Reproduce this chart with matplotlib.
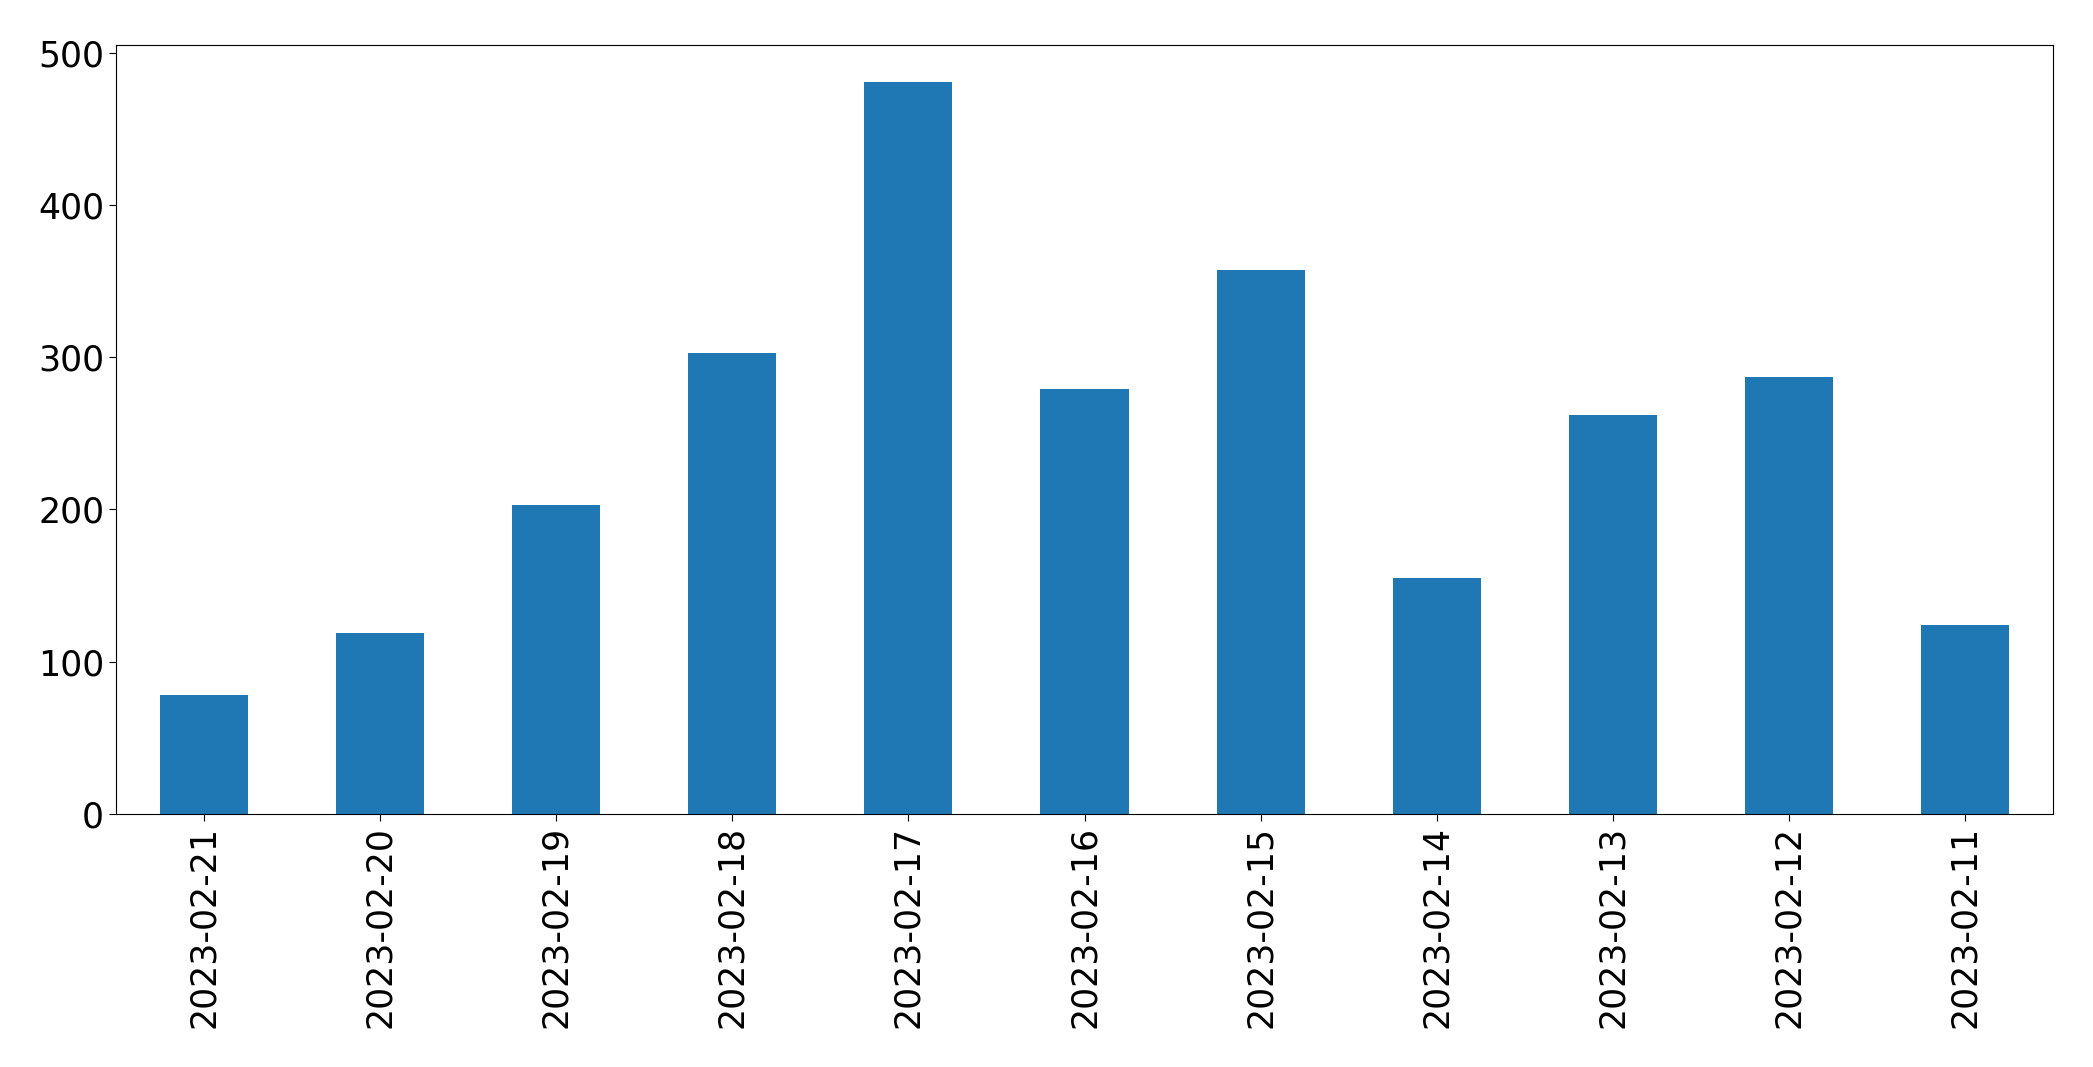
import matplotlib
matplotlib.use("Agg")
import matplotlib.pyplot as plt

dates = ["2023-02-21", "2023-02-20", "2023-02-19", "2023-02-18", "2023-02-17",
         "2023-02-16", "2023-02-15", "2023-02-14", "2023-02-13", "2023-02-12",
         "2023-02-11"]
counts = [78, 119, 203, 303, 481, 279, 357, 155, 262, 287, 124]

fig = plt.figure(figsize=(20.93, 10.67), dpi=100)
ax = fig.add_axes([116/2093, 1 - 814/1067, (2053-116)/2093, (814-45)/1067])
x = list(range(len(dates)))
ax.bar(x, counts, width=0.5, color="#1f77b4")
ax.set_xlim(-0.5, len(dates) - 0.5)
ax.set_ylim(0, max(counts) * 1.05)
ax.set_xticks(x)
ax.set_xticklabels(dates, rotation=90)
ax.set_yticks([0, 100, 200, 300, 400, 500])
ax.tick_params(labelsize=25, length=5)
fig.savefig("out.png", dpi=100)
